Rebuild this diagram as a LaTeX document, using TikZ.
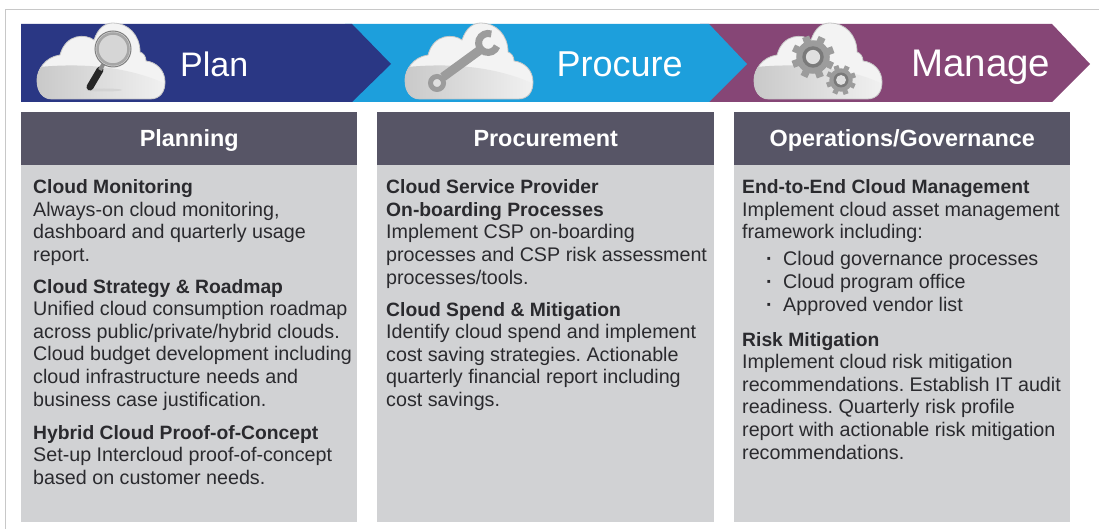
\documentclass[tikz,border=0pt]{standalone}
\usepackage{fontspec}
\setmainfont{Liberation Sans}
\usepackage{xcolor}
\usetikzlibrary{positioning,calc}
\definecolor{planblue}{HTML}{2A3784}
\definecolor{procblue}{HTML}{1D9FDC}
\definecolor{managepurple}{HTML}{864676}
\definecolor{headgrey}{HTML}{575566}
\definecolor{bodygrey}{HTML}{D1D2D4}
\definecolor{inktext}{HTML}{2A2A2E}
\definecolor{framegrey}{HTML}{C8C8C8}
\definecolor{cloudfill}{HTML}{F3F3F3}
\definecolor{toolgrey}{HTML}{9C9C9C}
\frenchspacing
\tikzset{
  stage/.style={text=white, anchor=base west, inner sep=0pt},
  head/.style={fill=headgrey, text=white, font=\fontsize{23.4}{26}\selectfont\bfseries,
    minimum height=53pt, text height=19pt, text depth=3pt, inner sep=0pt, anchor=north west},
  panel/.style={fill=bodygrey, minimum height=357pt, inner sep=0pt, anchor=north west},
  copy/.style={text=inktext, font=\fontsize{19.7}{22.6}\selectfont, align=left, anchor=north west, inner sep=0pt},
  tool/.style={fill=toolgrey, draw=none},
}
\newcommand{\subhd}[1]{{\fontsize{19.3}{22.6}\selectfont\bfseries #1}}
\newcommand{\cloudpath}{(52,99) -- (150,99) .. controls (160,99) and (165,92) .. (165,82)
      .. controls (165,70) and (156,62) .. (146,61)
      .. controls (146,56) and (143,53) .. (140,52)
      .. controls (140,35) and (128,23) .. (113,23)
      .. controls (105,23) and (98,28) .. (94,40)
      .. controls (86,34) and (66,33) .. (60,55)
      .. controls (45,57) and (37,70) .. (37,80)
      .. controls (37,92) and (43,99) .. (52,99) -- cycle}
\newcommand{\cloudshape}[1]{%
  \begin{scope}[shift={(#1,0)}]
    \fill[cloudfill] \cloudpath;
    \begin{scope}
      \clip \cloudpath;
      \shade[left color=black!22, right color=black!5]
        (30,68) .. controls (80,62) and (130,66) .. (170,86) -- (170,105) -- (30,105) -- cycle;
    \end{scope}
    \draw[black!22, line width=0.8pt] \cloudpath;
  \end{scope}}
\newcommand{\gearicon}[3]{%
  \foreach \a in {0,45,...,315}{
    \begin{scope}[shift={(#1,#2)},rotate=\a+20]
      \fill[tool] (-.17*#3,0) rectangle (.17*#3,#3);
    \end{scope}
  }
  \fill[tool] (#1,#2) circle (.78*#3);
  \fill[black!52] (#1,#2) circle (.5*#3);
  \fill[black!12] (#1,#2) circle (.33*#3);
}
\begin{document}
\begin{tikzpicture}[x=1pt,y=-1pt]
  \useasboundingbox (0,0) rectangle (1099,529);
  \fill[white] (0,0) rectangle (1099,529);
  \draw[framegrey, line width=0.8pt] (1099,9.5) -- (5.5,9.5) -- (5.5,529);
  % chevrons
  \fill[managepurple] (700,24) -- (1052,24) -- (1090,64) -- (1052,102) -- (700,102) -- cycle;
  \fill[procblue] (345,24) -- (709,24) -- (747,64) -- (709,102) -- (345,102) -- cycle;
  \fill[planblue] (21,24) -- (352,24) -- (391,64) -- (352,102) -- (21,102) -- cycle;
  \node[stage, font=\fontsize{34}{36}\selectfont] (plan) at (180,76.5) {Plan};
  \node[stage, font=\fontsize{36}{38}\selectfont] (procure) at (556.5,76.5) {Procure};
  \node[stage, font=\fontsize{38.5}{40}\selectfont] (manage) at (911,76.5) {Manage};
  % clouds
  \cloudshape{0}
  \cloudshape{368}
  \cloudshape{717}
  % magnifier
  \fill[black!20, opacity=.6] (104,90) ellipse (18 and 1.5);
  \draw[line width=7pt, black!85, line cap=round] (90,87) -- (100,70);
  \draw[line width=4pt, black!45] (100,70) -- (104,63);
  \draw[black!50, fill=black!16, line width=1pt] (113,49) circle (18);
  \draw[black!35, line width=2.5pt] (113,49) circle (15.5);
  % wrench
  \draw[toolgrey, line width=9pt] (443,77) -- (480,50);
  \draw[toolgrey, line width=5pt, fill=black!12] (437,83) circle (6.5);
  \draw[toolgrey, line width=7pt] (497,46.2) arc (20:290:9.5);
  % gears
  \gearicon{813}{57}{21.5}
  \gearicon{841}{80}{15}
  % panels
  \foreach \px/\pw/\hname/\pname in {21/336/Planning/pl, 377/337/Procurement/pr, 734/336/Operations\slash Governance/op}{
    \node[panel, minimum width=\pw pt] (body\pname) at (\px,165) {};
    \node[head, minimum width=\pw pt] (head\pname) at (\px,112) {\hname};
  }
  \node[copy] (plantext) at (33,179.5) {\subhd{Cloud Monitoring}\\Always-on cloud monitoring,\\dashboard and quarterly usage\\report.};
  \node[copy] (strategytext) at (33,279) {\subhd{Cloud Strategy \& Roadmap}\\Unified cloud consumption roadmap\\across public/private/hybrid clouds.\\Cloud budget development including\\cloud infrastructure needs and\\business case justification.};
  \node[copy] (hybridtext) at (33,425) {\subhd{Hybrid Cloud Proof-of-Concept}\\Set-up Intercloud proof-of-concept\\based on customer needs.};
  \node[copy] (csptext) at (386,179.5) {\subhd{Cloud Service Provider}\\\subhd{On-boarding Processes}\\Implement CSP on-boarding\\processes and CSP risk assessment\\processes/tools.};
  \node[copy] (spendtext) at (386,302) {\subhd{Cloud Spend \& Mitigation}\\Identify cloud spend and implement\\cost saving strategies. Actionable\\quarterly financial report including\\cost savings.};
  \node[copy] (e2etext) at (742,179.5) {\subhd{End-to-End Cloud Management}\\Implement cloud asset management\\framework including:};
  \node[copy] (listtext) at (766,251.5) {\makebox[17pt][l]{\textbf{·}}Cloud governance processes\\\makebox[17pt][l]{\textbf{·}}Cloud program office\\\makebox[17pt][l]{\textbf{·}}Approved vendor list};
  \node[copy] (risktext) at (742,332) {\subhd{Risk Mitigation}\\Implement cloud risk mitigation\\recommendations. Establish IT audit\\readiness. Quarterly risk profile\\report with actionable risk mitigation\\recommendations.};
\end{tikzpicture}
\end{document}
